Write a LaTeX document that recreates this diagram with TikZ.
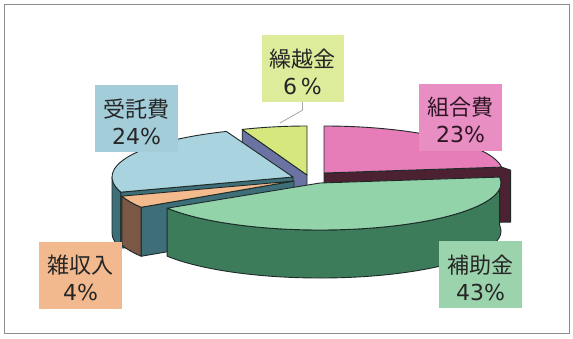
\documentclass[tikz,border=0pt]{standalone}
\usepackage{fontspec}
\newfontfamily\jpf{Noto Sans CJK JP}
\newfontfamily\numf{DejaVu Sans}
\usetikzlibrary{calc}
\definecolor{edgec}{HTML}{1E2A28}
\definecolor{yeltop}{HTML}{D6E77E}
\definecolor{slate}{HTML}{6B73A3}
\definecolor{pinktop}{HTML}{E67CB8}
\definecolor{maroon}{HTML}{4C2233}
\definecolor{bluetop}{HTML}{A9D3DE}
\definecolor{tealdk}{HTML}{3E6F79}
\definecolor{peach}{HTML}{F3BB8D}
\definecolor{brownw}{HTML}{7B5746}
\definecolor{greentop}{HTML}{93D3A9}
\definecolor{greendk}{HTML}{3D7C5A}
\definecolor{boxyel}{HTML}{DCEC9A}
\definecolor{boxpink}{HTML}{E88EC2}
\definecolor{boxblue}{HTML}{A3CDD9}
\definecolor{boxpeach}{HTML}{F1B98D}
\definecolor{boxgreen}{HTML}{9BD3AD}
\definecolor{txtc}{HTML}{262626}
\definecolor{txtpink}{HTML}{2E1524}
\definecolor{framec}{HTML}{8C8C8C}
\definecolor{leadc}{HTML}{A8A8A8}
\newcommand{\lbltext}[2]{\rule{0pt}{25pt}{\jpf #1}\\{\numf #2}}
\begin{document}
\begin{tikzpicture}[x=1pt,y=-1pt,
  face/.style={draw=edgec,line width=0.9pt,line join=round},
  lbl/.style={inner sep=0pt,minimum width=83pt,minimum height=67pt,align=center,text=txtc,font=\fontsize{22}{27}\selectfont},
  leader/.style={draw=leadc,line width=0.8pt},
  framebox/.style={draw=framec,line width=1pt}]
\useasboundingbox (0,0) rectangle (573,338);
\fill[white] (0,0) rectangle (573,338);

% 繰越金 6%
\coordinate (Ck) at (307,175);
\filldraw[face,fill=slate] (Ck) -- ++(248.4:176 and 49) -- ++(0,50) -- ($(Ck)+(0,50)$) -- cycle;
\filldraw[face,fill=yeltop] (Ck) -- ++(248.4:176 and 49) arc[start angle=248.4,end angle=270,x radius=176,y radius=49] -- cycle;

% 組合費 23%
\coordinate (Cp) at (324,173);
\filldraw[face,fill=maroon] (Cp) -- ++(-7.2:179 and 47) -- ++(9,3) -- ++(0,52) -- ($(Cp)+(0,52)$) -- cycle;
\filldraw[face,fill=pinktop] (Cp) -- ++(-90:179 and 47) arc[start angle=-90,end angle=-7.2,x radius=179,y radius=47] -- cycle;

% 受託費 24%
\coordinate (Cj) at (293,177);
\filldraw[face,fill=tealdk] ([shift={(162:181 and 49)}]Cj) arc[start angle=162,end angle=180,x radius=181,y radius=49] -- ++(0,56) arc[start angle=180,end angle=162,x radius=181,y radius=49] -- cycle;
\filldraw[face,fill=tealdk] (Cj) -- ++(162:181 and 49) -- ++(0,56) -- ($(Cj)+(0,56)$) -- cycle;
\filldraw[face,fill=bluetop] (Cj) -- ++(162:181 and 49) arc[start angle=162,end angle=248.4,x radius=181,y radius=49] -- cycle;

% 雑収入 4%
\coordinate (Cz) at (294,181);
\filldraw[face,fill=tealdk] (Cz) -- ++(147.6:181 and 49) -- ++(0,49) -- ($(Cz)+(0,49)$) -- cycle;
\filldraw[face,fill=brownw] ([shift={(147.6:181 and 49)}]Cz) arc[start angle=147.6,end angle=162,x radius=181,y radius=49] -- ++(0,49) arc[start angle=162,end angle=147.6,x radius=181,y radius=49] -- cycle;
\filldraw[face,fill=peach] (Cz) -- ++(147.6:181 and 49) arc[start angle=147.6,end angle=162,x radius=181,y radius=49] -- cycle;

% 補助金 43%
\coordinate (Cg) at (320,183);
\filldraw[face,fill=greendk] ([shift={(-7.2:181 and 47)}]Cg) arc[start angle=-7.2,end angle=147.6,x radius=181,y radius=47] -- ++(0,48) arc[start angle=147.6,end angle=-7.2,x radius=181,y radius=47] -- cycle;
\filldraw[face,fill=greentop] (Cg) -- ++(-7.2:181 and 47) arc[start angle=-7.2,end angle=147.6,x radius=181,y radius=47] -- cycle;

% labels
\node[lbl,fill=boxyel,minimum width=82pt] (kk) at (302.5,68.5) {\lbltext{繰越金}{6\,\%}};
\node[lbl,fill=boxpink,text=txtpink] (km) at (460.5,117) {\lbltext{組合費}{23\%}};
\node[lbl,fill=boxblue] (ju) at (136.5,118.5) {\lbltext{受託費}{24\%}};
\node[lbl,fill=boxpeach] (za) at (80.5,275) {\lbltext{雑収入}{4\%}};
\node[lbl,fill=boxgreen] (ho) at (480.5,274.5) {\lbltext{補助金}{43\%}};

\coordinate (kl) at (280,123);
\draw[leader] (kk.south) -- ++(0,8) -- (kl);

\draw[framebox] (4.5,4.5) rectangle (569.5,333);
\end{tikzpicture}
\end{document}
